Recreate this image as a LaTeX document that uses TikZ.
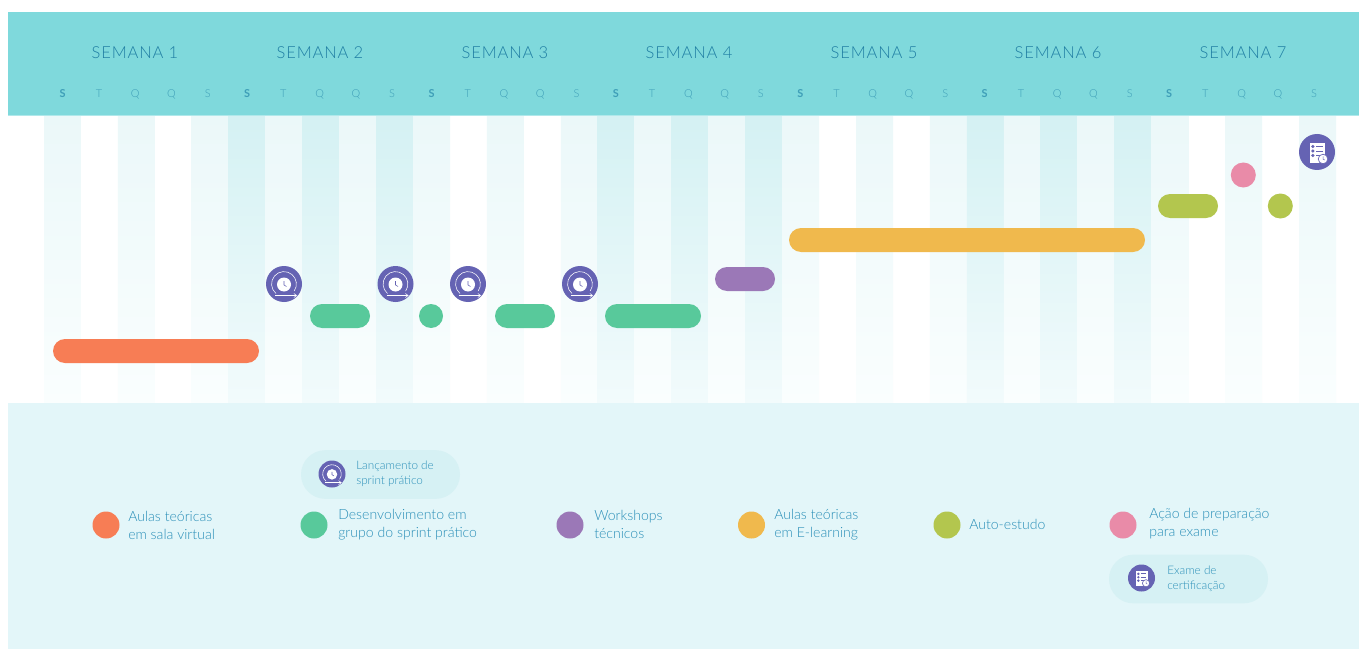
\documentclass[tikz,border=0pt]{standalone}
\usepackage{fontspec}
\setmainfont{Lato}[UprightFont=* Light,BoldFont=* Bold]
\newfontfamily\hdfont{Lato}[UprightFont=* Light,LetterSpace=5]
\usetikzlibrary{shapes.misc,arrows.meta}
\definecolor{hdr}{HTML}{7FD9DC}
\definecolor{hdrline}{HTML}{B0E8EA}
\definecolor{lgnd}{HTML}{E3F6F9}
\definecolor{pillbg}{HTML}{D6F1F4}
\definecolor{tintA}{HTML}{EBF8F9}
\definecolor{tintB}{HTML}{FAFEFE}
\definecolor{darkA}{HTML}{D4F1F3}
\definecolor{darkB}{HTML}{F2FBFC}
\definecolor{wk}{HTML}{1F7EA3}
\definecolor{dayc}{HTML}{3F9FB8}
\definecolor{txt}{HTML}{2A8FB8}
\definecolor{cred}{HTML}{F77D55}
\definecolor{cgreen}{HTML}{58C99B}
\definecolor{cpurple}{HTML}{9B78B7}
\definecolor{cyellow}{HTML}{F0B94D}
\definecolor{colive}{HTML}{B3C64E}
\definecolor{cpink}{HTML}{E98BA8}
\definecolor{cicon}{HTML}{6563B3}
\tikzset{
  x=0.75pt,y=-0.75pt,
  bar/.style={rounded rectangle,minimum height=18pt,inner sep=0pt,outer sep=0pt,draw=none},
  dot/.style={circle,inner sep=0pt,outer sep=0pt,draw=none},
  pill/.style={rounded rectangle,fill=pillbg,draw=none,inner sep=0pt,minimum width=119.25pt,minimum height=36.5pt},
  wklabel/.style={font=\hdfont\fontsize{12.4}{15}\selectfont,text=wk,inner sep=0pt},
  daylabel/.style={font=\fontsize{8.2}{10}\selectfont,text=dayc,inner sep=0pt},
  leg/.style={font=\fontsize{10.55}{13.5}\selectfont,text=txt,anchor=west,align=left,inner sep=0pt},
  pilltxt/.style={font=\fontsize{8.8}{11}\selectfont,text=txt,anchor=west,align=left,inner sep=0pt},
  sprint/.pic={
    \node[dot,fill=cicon,minimum size=27pt,transform shape] (-disc) at (0,0) {};
    \draw[white,line width=0.4pt] (-8,9.5) arc[start angle=130,end angle=395,radius=12.4];
    \draw[white,line width=0.4pt,-{Straight Barb[length=2pt,width=3pt]}] (-9,11.5) -- (13,11.5);
    \fill[white] (0,0.5) circle[radius=7];
    \draw[cicon,line width=0.4pt] (0,-3) -- (0,1) -- (2.5,2.5);
  },
  examicon/.pic={
    \node[dot,fill=cicon,minimum size=27pt,transform shape] (-disc) at (0,0) {};
    \fill[white] (-7,-9) rectangle (8,11);
    \foreach \yy in {-5.5,-1,3.5}{
      \fill[cicon] (-4.2,\yy) circle[radius=1.7];
      \draw[cicon,line width=0.6pt] (-1,\yy) -- (5.5,\yy);
    }
    \fill[white,draw=cicon,line width=0.5pt] (6,7) circle[radius=4.8];
    \draw[cicon,line width=0.35pt] (6,4.5) -- (6,7.3) -- (7.8,8);
  },
}
\begin{document}
\begin{tikzpicture}
\useasboundingbox (0,0) rectangle (1359,649);
\fill[white] (0,0) rectangle (1359,649);
% day columns
\foreach \w in {0,...,6}{
  \foreach \d in {0,...,4}{
    \pgfmathsetmacro{\xa}{44+36.914*(\w*5+\d)}
    \pgfmathsetmacro{\xb}{\xa+36.914}
    \pgfmathtruncatemacro{\isodd}{mod(\w,2)}
    \pgfmathtruncatemacro{\alt}{mod(\d,2)}
    \ifnum\isodd=1
      \ifnum\alt=0
        \shade[top color=darkA,bottom color=darkB,draw=none] (\xa,115) rectangle (\xb,403);
      \else
        \shade[top color=tintA,bottom color=tintB,draw=none] (\xa,115) rectangle (\xb,403);
      \fi
    \else
      \ifnum\alt=0
        \shade[top color=tintA,bottom color=tintB,draw=none] (\xa,115) rectangle (\xb,403);
      \fi
    \fi
  }
}
% header & legend bands
\fill[hdr] (8,12) rectangle (1359,115);
\fill[hdrline] (8,115) rectangle (1359,116);
\fill[lgnd] (8,403) rectangle (1359,649);
% week labels
\foreach \n/\xx in {1/135,2/320,3/505,4/689,5/874,6/1058,7/1243}{
  \node[wklabel] (week\n) at (\xx,52.5) {SEMANA \n};
}
% day labels
\foreach \w in {0,...,6}{
  \foreach \d/\l in {0/{\textbf{S}},1/T,2/Q,3/Q,4/S}{
    \pgfmathsetmacro{\xc}{62.7+184.4*\w+36.25*\d}
    \node[daylabel] (day\w\d) at (\xc,94) {\l};
  }
}
% bars
\node[bar,fill=cred,minimum width=154.5pt] (b1) at (156,351) {};
\node[bar,fill=cgreen,minimum width=45pt] (b2) at (340,316) {};
\node[dot,fill=cgreen,minimum size=18pt] (b3) at (431,316) {};
\node[bar,fill=cgreen,minimum width=45pt] (b4) at (525,316) {};
\node[bar,fill=cgreen,minimum width=72pt] (b5) at (653,316) {};
\node[bar,fill=cpurple,minimum width=45pt] (b6) at (745,279) {};
\node[bar,fill=cyellow,minimum width=267pt] (b7) at (967,240) {};
\node[bar,fill=colive,minimum width=45pt] (b8) at (1188,206) {};
\node[dot,fill=cpink,minimum size=18.75pt] (b9) at (1243.3,175) {};
\node[dot,fill=colive,minimum size=18.75pt] (b10) at (1280.3,206) {};
% icons
\pic (s1) at (284,284) {sprint};
\pic (s2) at (395.5,284) {sprint};
\pic (s3) at (468,284) {sprint};
\pic (s4) at (580,284) {sprint};
\pic (ex) at (1317,152) {examicon};
% legend
\node[pill] (p1) at (380.5,474.5) {};
\node[pill] (p2) at (1188.5,579) {};
\pic[scale=0.75] (ls) at (332,474) {sprint};
\pic[scale=0.75] (le) at (1141.5,578) {examicon};
\node[pilltxt] (pt1) at (356,473.5) {Lançamento de\\sprint prático};
\node[pilltxt] (pt2) at (1167,579) {Exame de\\certificação};
\node[dot,fill=cred,minimum size=20.25pt] (l1) at (106,525) {};
\node[dot,fill=cgreen,minimum size=20.25pt] (l2) at (314,525) {};
\node[dot,fill=cpurple,minimum size=20.25pt] (l3) at (570,525) {};
\node[dot,fill=cyellow,minimum size=20.25pt] (l4) at (751.5,525) {};
\node[dot,fill=colive,minimum size=20.25pt] (l5) at (947,525) {};
\node[dot,fill=cpink,minimum size=20.25pt] (l6) at (1123,525) {};
\node[leg] (t1) at (128,525.5) {Aulas teóricas\\em sala virtual};
\node[leg] (t2) at (338,524.5) {Desenvolvimento em\\grupo do sprint prático};
\node[leg] (t3) at (594,524) {Workshops\\técnicos};
\node[leg] (t4) at (774,524.5) {Aulas teóricas\\em E-learning};
\node[leg] (t5) at (969,524) {Auto-estudo};
\node[leg] (t6) at (1149,523.5) {Ação de preparação\\para exame};
\end{tikzpicture}
\end{document}
